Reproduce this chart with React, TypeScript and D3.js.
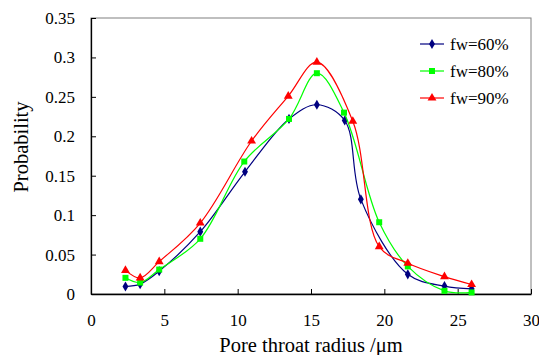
import React, { useEffect, useRef } from "react";
import * as d3 from "d3";

// pore throat radius (um) for each sample point
const radius60 = [2.35, 3.35, 4.65, 7.45, 10.5, 13.5, 15.4, 17.3, 18.4, 21.6, 24.1, 25.95];
const prob60 = [0.0095, 0.0125, 0.029, 0.079, 0.155, 0.222, 0.24, 0.22, 0.12, 0.025, 0.01, 0.0065];

const radius80 = [2.35, 3.35, 4.65, 7.45, 10.45, 13.5, 15.4, 17.25, 19.65, 21.6, 24.1, 25.95];
const prob80 = [0.0205, 0.0145, 0.031, 0.07, 0.168, 0.222, 0.28, 0.23, 0.091, 0.035, 0.004, 0.002];

const radius90 = [2.35, 3.35, 4.65, 7.45, 10.95, 13.45, 15.4, 17.85, 19.65, 21.6, 24.1, 25.95];
const prob90 = [0.03, 0.0205, 0.041, 0.09, 0.194, 0.251, 0.294, 0.219, 0.06, 0.039, 0.022, 0.012];

const seriesNames = ["fw=60%", "fw=80%", "fw=90%"];
const seriesColors = ["#000080", "#00ff00", "#ff0000"];
const seriesMarkers = [d3.symbolDiamond, d3.symbolSquare, d3.symbolTriangle];

const xTicks = [0, 5, 10, 15, 20, 25, 30];
const yTicks = [0, 0.05, 0.1, 0.15, 0.2, 0.25, 0.3, 0.35];

const App = () => {
  const svgRef = useRef<SVGSVGElement>(null);

  useEffect(() => {
    const width = 539;
    const height = 355;
    const margin = { top: 18, right: 8, bottom: 61, left: 91 };
    const font = "'Liberation Serif', 'Times New Roman', serif";

    const svg = d3.select(svgRef.current);
    svg.selectAll("*").remove();
    svg.attr("width", width).attr("height", height);

    const x = d3.scaleLinear().domain([0, 30]).range([margin.left, width - margin.right]);
    const y = d3.scaleLinear().domain([0, 0.35]).range([height - margin.bottom, margin.top]);

    // plot area border (top and right in grey)
    svg
      .append("rect")
      .attr("x", x(0))
      .attr("y", y(0.35))
      .attr("width", x(30) - x(0))
      .attr("height", y(0) - y(0.35))
      .attr("fill", "none")
      .attr("stroke", "#808080")
      .attr("stroke-width", 1);

    // x axis, ticks pointing inward
    const xAxis = svg
      .append("g")
      .attr("transform", `translate(0,${y(0)})`)
      .call(d3.axisBottom(x).tickValues(xTicks).tickSizeInner(-5).tickSizeOuter(0).tickPadding(20).tickFormat(d3.format("d")));
    xAxis.select(".domain").attr("stroke", "#000").attr("stroke-width", 1.3);
    xAxis.selectAll("text").attr("font-family", font).attr("font-size", 17).attr("fill", "#000");

    // y axis
    const yAxis = svg
      .append("g")
      .attr("transform", `translate(${x(0)},0)`)
      .call(d3.axisLeft(y).tickValues(yTicks).tickSizeInner(-5).tickSizeOuter(0).tickPadding(16).tickFormat((d) => String(+(+d).toFixed(2))));
    yAxis.select(".domain").attr("stroke", "#000").attr("stroke-width", 1.3);
    yAxis.selectAll("text").attr("font-family", font).attr("font-size", 17).attr("fill", "#000");

    // axis titles
    svg
      .append("text")
      .attr("text-anchor", "middle")
      .attr("x", 311)
      .attr("y", 352)
      .attr("font-family", font)
      .attr("font-size", 20.5)
      .text("Pore throat radius /μm");
    svg
      .append("text")
      .attr("text-anchor", "middle")
      .attr("transform", "rotate(-90)")
      .attr("x", -147)
      .attr("y", 28)
      .attr("font-family", font)
      .attr("font-size", 20.5)
      .text("Probability");

    const seriesX = [radius60, radius80, radius90];
    const seriesY = [prob60, prob80, prob90];

    const line = d3
      .line<[number, number]>()
      .x((d) => x(d[0]))
      .y((d) => y(d[1]))
      .curve(d3.curveCatmullRom.alpha(0.5));

    seriesNames.forEach((name, i) => {
      const pts: [number, number][] = seriesX[i].map((r, j) => [r, seriesY[i][j]]);
      svg
        .append("path")
        .datum(pts)
        .attr("d", line)
        .attr("fill", "none")
        .attr("stroke", seriesColors[i])
        .attr("stroke-width", 1.2);

      const sym = d3.symbol().type(seriesMarkers[i]).size(i === 0 ? 30 : i === 1 ? 36 : 34);
      svg
        .append("g")
        .selectAll("path")
        .data(pts)
        .enter()
        .append("path")
        .attr("d", sym)
        .attr("transform", (d) => `translate(${x(d[0])},${y(d[1])})`)
        .attr("fill", seriesColors[i]);

      // legend entry
      const ly = 44 + i * 27;
      svg
        .append("line")
        .attr("x1", 420)
        .attr("x2", 444)
        .attr("y1", ly)
        .attr("y2", ly)
        .attr("stroke", seriesColors[i])
        .attr("stroke-width", 1.2);
      svg
        .append("path")
        .attr("d", sym)
        .attr("transform", `translate(432,${ly})`)
        .attr("fill", seriesColors[i]);
      svg
        .append("text")
        .attr("x", 450)
        .attr("y", ly + 5.5)
        .attr("font-family", font)
        .attr("font-size", 17)
        .text(name);
    });
  }, []);

  return <svg ref={svgRef} style={{ position: "absolute", left: 0, top: 0 }}></svg>;
};

export default App;
